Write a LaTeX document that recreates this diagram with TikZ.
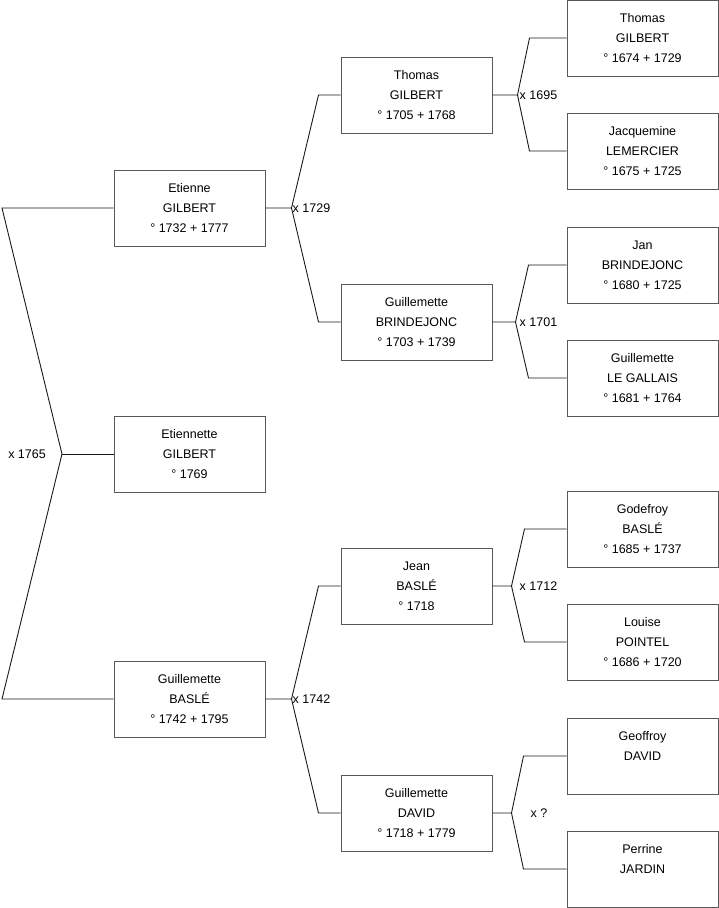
\documentclass[tikz,border=0pt]{standalone}
\usepackage{fontspec}
\setmainfont{Liberation Sans}
\begin{document}
\begin{tikzpicture}[x=1pt, y=-1pt,
    person/.style={draw=black!65, line width=1pt, minimum width=151pt, minimum height=76pt,
                   inner sep=0pt, align=center, font=\fontsize{12.5}{20}\selectfont},
    link/.style={black!90, line width=0.9pt},
    wed/.style={inner sep=0pt, anchor=west, font=\fontsize{12.5}{15}\selectfont}]
    \useasboundingbox (0,0) rectangle (719,908);

    % Generation 1
    \node[person] (etienne)      at (189.5,208) {Etienne\\GILBERT\\° 1732 + 1777};
    \node[person] (etiennette)   at (189.5,454) {Etiennette\\GILBERT\\° 1769};
    \node[person] (guillemetteB) at (189.5,699) {Guillemette\\BASLÉ\\° 1742 + 1795};

    % Generation 2
    \node[person] (thomasG)       at (416.5,95)  {Thomas\\GILBERT\\° 1705 + 1768};
    \node[person] (guillemetteBr) at (416.5,322) {Guillemette\\BRINDEJONC\\° 1703 + 1739};
    \node[person] (jeanB)         at (416.5,586) {Jean\\BASLÉ\\° 1718};
    \node[person] (guillemetteD)  at (416.5,813) {Guillemette\\DAVID\\° 1718 + 1779};

    % Generation 3
    \node[person] (thomasGs)      at (642.5,38)  {Thomas\\GILBERT\\° 1674 + 1729};
    \node[person] (jacquemine)    at (642.5,151) {Jacquemine\\LEMERCIER\\° 1675 + 1725};
    \node[person] (jan)           at (642.5,265) {Jan\\BRINDEJONC\\° 1680 + 1725};
    \node[person] (guillemetteLG) at (642.5,378) {Guillemette\\LE GALLAIS\\° 1681 + 1764};
    \node[person] (godefroy)      at (642.5,529) {Godefroy\\BASLÉ\\° 1685 + 1737};
    \node[person] (louise)        at (642.5,642) {Louise\\POINTEL\\° 1686 + 1720};
    \node[person] (geoffroy)      at (642.5,756) {Geoffroy\\DAVID\\~};
    \node[person] (perrine)       at (642.5,869) {Perrine\\JARDIN\\~};

    % Parents of Etiennette
    \coordinate (lft) at (2,0);
    \coordinate (wedA) at (62,454);
    \draw[link] (etienne.west) -- (etienne.west -| lft) -- (wedA)
        -- (guillemetteB.west -| lft) -- (guillemetteB.west);
    \draw[link] (wedA) -- (etiennette.west);
    \node[wed, anchor=east] (wedAlbl) at (46,454) {x 1765};

    % Forks towards the parents
    \foreach \kid/\dad/\mum/\dx/\bx/\lx/\yr in {
        etienne/thomasG/guillemetteBr/26/22/1/1729,
        guillemetteB/jeanB/guillemetteD/26/22/1/1742,
        thomasG/thomasGs/jacquemine/25/37/2/1695,
        guillemetteBr/jan/guillemetteLG/23/38/4/1701,
        jeanB/godefroy/louise/19/42/8/1712,
        guillemetteD/geoffroy/perrine/19/43/19/?} {
            \draw[link] (\kid.east) -- ++(\dx,0) coordinate (v-\kid)
                -- ([xshift=-\bx pt]\dad.west) -- (\dad.west);
            \draw[link] (v-\kid) -- ([xshift=-\bx pt]\mum.west) -- (\mum.west);
            \node[wed] (lbl-\kid) at ([xshift=\lx pt]v-\kid) {x \yr};
        }
\end{tikzpicture}
\end{document}
